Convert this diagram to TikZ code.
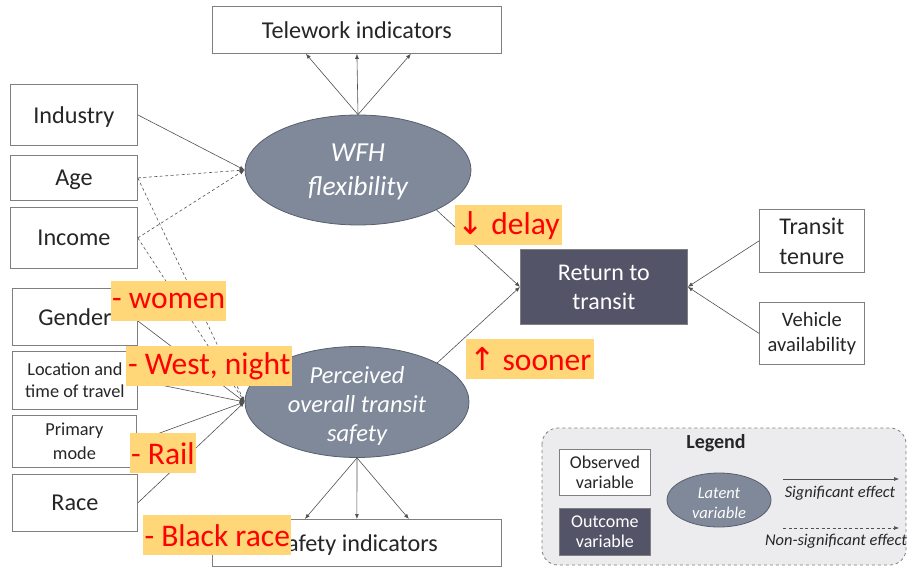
\documentclass[tikz,border=0pt]{standalone}
\usepackage{fontspec}
\setmainfont{Carlito}
\usetikzlibrary{arrows.meta,calc,shapes.geometric}
\newfontfamily\symfont{DejaVu Sans}

\definecolor{txt}{RGB}{38,38,38}
\definecolor{edge}{RGB}{127,127,127}
\definecolor{conn}{RGB}{80,80,80}
\definecolor{latentfill}{RGB}{127,137,153}
\definecolor{latentedge}{RGB}{88,96,110}
\definecolor{outfill}{RGB}{84,84,104}
\definecolor{legfill}{RGB}{236,236,238}
\definecolor{hlfill}{RGB}{255,214,120}
\definecolor{hltext}{RGB}{255,0,0}

\tikzset{
  obsbox/.style={draw=edge, line width=0.8pt, fill=white, text=txt, inner sep=0pt,
    anchor=north west, align=center},
  latent/.style={ellipse, draw=latentedge, line width=0.8pt, fill=latentfill, text=white,
    inner sep=0pt, align=center, font=\itshape},
  outcome/.style={draw=edge, line width=0.8pt, fill=outfill, text=white, inner sep=0pt,
    anchor=north west, align=center},
  sig/.style={draw=conn, line width=0.6pt, -{Latex[length=5pt,width=4pt]}},
  nonsig/.style={sig, dash pattern=on 3pt off 2.5pt},
  hl/.style={fill=hlfill, text=hltext, inner xsep=1pt, inner ysep=0pt, anchor=north west,
    minimum height=40pt, font=\fontsize{31.5}{33}\selectfont},
  big/.style={font=\fontsize{24.2}{27}\selectfont, text depth=0pt},
}

\begin{document}
\begin{tikzpicture}[x=1pt,y=-1pt]
\useasboundingbox (0,0) rectangle (907,567);

% legend panel (behind everything else)
\draw[draw=edge, dashed, fill=legfill, rounded corners=16pt, line width=0.8pt]
  (542,428) rectangle (906,565);

% observed variables
\node[obsbox, big, minimum width=289pt, minimum height=47pt] (tw) at (212,6) {Telework indicators};
\node[obsbox, big, minimum width=127pt, minimum height=61pt] (ind) at (10,84) {Industry};
\node[obsbox, big, minimum width=127pt, minimum height=45pt] (age) at (10,155) {Age};
\node[obsbox, big, minimum width=127pt, minimum height=61pt] (inc) at (10,207) {Income};
\node[obsbox, big, minimum width=125pt, minimum height=57pt] (gen) at (12,288) {Gender};
\node[obsbox, minimum width=125pt, minimum height=58pt, font=\fontsize{18.3}{22}\selectfont]
  (loc) at (12,351) {Location and\\time of travel};
\node[obsbox, minimum width=124pt, minimum height=52pt, font=\fontsize{18.3}{24}\selectfont]
  (mode) at (12,415) {Primary\\mode};
\node[obsbox, big, minimum width=125pt, minimum height=57pt] (race) at (12,474) {Race};
\node[obsbox, big, minimum width=289pt, minimum height=47pt] (safe) at (212,519) {Safety indicators};
\node[obsbox, minimum width=105pt, minimum height=63pt, font=\fontsize{24}{30}\selectfont]
  (ten) at (759,209) {Transit\\tenure};
\node[obsbox, minimum width=105pt, minimum height=62pt, font=\fontsize{20.5}{25}\selectfont]
  (veh) at (759,302) {Vehicle\\availability};

% latent variables
\node[latent, minimum width=226pt, minimum height=110pt] (wfh) at (358,170) {};
\node[text=white, align=center, font=\itshape\fontsize{27.5}{34}\selectfont]
  (wfhlab) at (358,172) {WFH\\flexibility};
\node[latent, minimum width=224pt, minimum height=111pt] (perc) at (357,402) {};
\node[text=white, align=center, font=\itshape\fontsize{24.5}{29}\selectfont]
  (perclab) at (357,406) {Perceived\\overall transit\\safety};

% outcome
\node[outcome, minimum width=167pt, minimum height=75pt, font=\fontsize{24}{29}\selectfont,
  text depth=0pt] (ret) at (520,249) {Return to\\transit};

% measurement arrows
\foreach \dx in {-51,0,54}
  \draw[sig] (wfh.north) -- ($(tw.south)+(\dx,0)$);
\foreach \dx in {-52,0,52}
  \draw[sig] (perc.south) -- ($(safe.north)+(\dx,0)$);

% structural paths into WFH flexibility
\draw[sig] (ind.east) -- (wfh.west);
\draw[nonsig] (age.east) -- (wfh.west);
\draw[nonsig] (inc.east) -- (wfh.west);

% structural paths into perceived safety
\draw[nonsig] (age.east) -- (perc.west);
\draw[nonsig] (inc.east) -- (perc.west);
\draw[sig] ($(gen.east)+(0,4)$) -- (perc.west);
\draw[sig] (loc.east) -- (perc.west);
\draw[sig] (mode.east) -- (perc.west);
\draw[sig] (race.east) -- (perc.west);

% paths into the outcome
\draw[sig] (wfh.-27) -- (ret.west);
\draw[sig] (perc.26) -- (ret.west);
\draw[sig] (ten.west) -- (ret.east);
\draw[sig] (veh.west) -- (ret.east);

% legend contents
\node[font=\bfseries\fontsize{20}{24}\selectfont, text=txt] (legt) at (716,443) {Legend};
\node[obsbox, minimum width=91pt, minimum height=46pt, font=\fontsize{18}{20}\selectfont]
  (lobs) at (559,449) {Observed\\variable};
\node[outcome, minimum width=91pt, minimum height=47pt, font=\fontsize{18}{20}\selectfont]
  (lout) at (559,508) {Outcome\\variable};
\node[latent, minimum width=104pt, minimum height=54pt] (llat) at (719,500) {};
\node[text=white, align=center, font=\itshape\fontsize{16.5}{20}\selectfont]
  (llatlab) at (719,503) {Latent\\variable};
\coordinate (s1) at (783,479);
\coordinate (s2) at (899,479);
\coordinate (n1) at (783,528);
\coordinate (n2) at (899,528);
\draw[sig] (s1) -- (s2);
\draw[nonsig] (n1) -- (n2);
\node[font=\itshape\fontsize{16.4}{18}\selectfont, text=txt] (lsig) at (840,493) {Significant effect};
\node[font=\itshape\fontsize{16.4}{18}\selectfont, text=txt] (lnon) at (836,541) {Non-significant effect};

% highlighted findings
\node[hl, minimum width=115pt] (hwomen) at (111,281) {- women};
\node[hl, minimum width=166pt] (hwest) at (126,346) {- West, night};
\node[hl, minimum width=65pt] (hrail) at (130,433) {- Rail};
\node[hl, minimum width=148pt] (hblack) at (143,515) {- Black race};
\node[hl, minimum width=107pt] (hdelay) at (455,205) {{\symfont ↓} delay};
\node[hl, minimum width=128pt] (hsoon) at (466,339) {{\symfont ↑} sooner};
\end{tikzpicture}
\end{document}
